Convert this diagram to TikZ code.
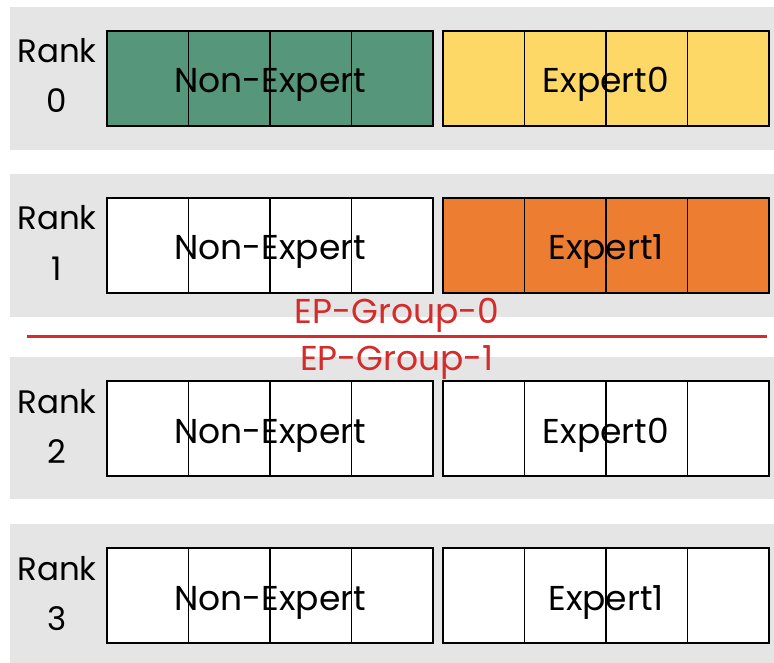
\documentclass[tikz,border=0pt]{standalone}
\usepackage{fontspec}
\setmainfont{Poppins}
\usetikzlibrary{calc}
\definecolor{bandgray}{HTML}{E5E5E5}
\definecolor{nongreen}{HTML}{56967B}
\definecolor{expyellow}{HTML}{FDD866}
\definecolor{exporange}{HTML}{ED7D31}
\definecolor{grpred}{HTML}{D42B2B}
\tikzset{
  band/.style={fill=bandgray, draw=none, anchor=north west, minimum width=764pt, inner sep=0pt, outer sep=0pt},
  blockbox/.style={draw=black, line width=2.6pt, anchor=north west, minimum width=326pt, minimum height=95pt, inner sep=0pt, outer sep=0pt},
  divider/.style={draw=black, line width=1.6pt},
  boxtext/.style={font=\fontsize{34.5}{40}\selectfont, anchor=base, inner sep=0pt},
  ranktext/.style={font=\fontsize{32.5}{38}\selectfont, anchor=base, inner sep=0pt},
  grouptext/.style={font=\fontsize{34.5}{40}\selectfont, text=grpred, anchor=base, inner sep=0pt},
  sepline/.style={draw=grpred, line width=3pt}
}
\begin{document}
\begin{tikzpicture}[x=1pt,y=-1pt]
\useasboundingbox (0,0) rectangle (774,663);
% grey background band for each rank
\foreach \i/\bt/\bh in {0/7/143, 1/174/143, 2/357/142, 3/524/139}{
  \node[band, minimum height=\bh pt] (band\i) at (10,\bt) {};
}
% parameter blocks of each rank: non-expert part and expert part, four shards each
\foreach \i/\top/\nfill/\efill/\ename in {0/31/nongreen/expyellow/Expert0, 1/198/white/exporange/Expert1, 2/381/white/white/Expert0, 3/548/white/white/Expert1}{
  \node[blockbox, fill=\nfill] (ne\i) at (107,\top) {};
  \node[blockbox, fill=\efill] (ex\i) at (443,\top) {};
  \foreach \b in {ne\i, ex\i}{
    \foreach \f in {0.25,0.5,0.75}{
      \draw[divider] ($(\b.north west)!\f!(\b.north east)$) -- ($(\b.south west)!\f!(\b.south east)$);
    }
  }
  \node[boxtext] (net\i) at ($(ne\i.north)+(0,62)$) {Non-Expert};
  \node[boxtext] (ext\i) at ($(ex\i.north)+(0,62)$) {\ename};
  \node[ranktext] (rank\i) at (57,\top+32) {Rank};
  \node[ranktext] (num\i) at (57,\top+82) {\i};
}
% boundary between the two expert-parallel groups
\coordinate (sepL) at (27,336);
\coordinate (sepR) at (767,336);
\draw[sepline] (sepL) -- (sepR);
\node[grouptext] (grp0) at (397,323) {EP-Group-0};
\node[grouptext] (grp1) at (397,370) {EP-Group-1};
\end{tikzpicture}
\end{document}
